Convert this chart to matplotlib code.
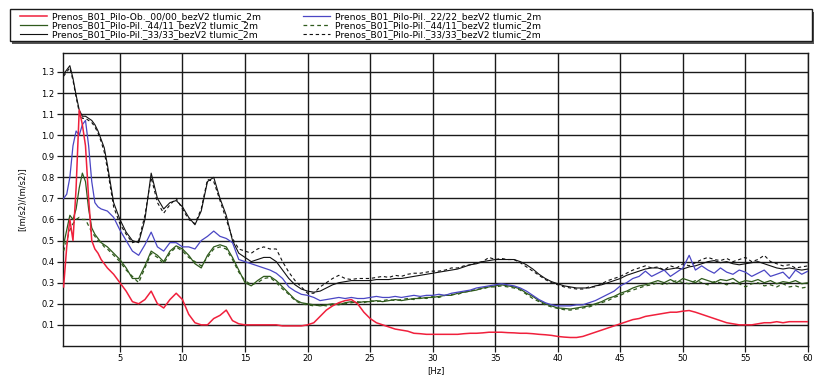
import numpy as np
import matplotlib
matplotlib.use("Agg")
import matplotlib.pyplot as plt
from matplotlib.patches import Rectangle

# frequency grid [Hz]: finer below 4 Hz where the peaks are
freq = [0.5, 0.75, 1.0, 1.25, 1.5, 1.75, 2.0, 2.25, 2.5, 2.75, 3.0, 3.25, 3.5, 3.75, 4.0] + \
       [4.5 + 0.5 * i for i in range(112)]

red_ob = [0.28, 0.47, 0.60, 0.50, 0.75, 1.12, 1.05, 0.95, 0.70, 0.50, 0.46, 0.44, 0.41, 0.39, 0.37,
          0.34, 0.30, 0.26, 0.21, 0.20, 0.22, 0.26, 0.20, 0.18, 0.22, 0.25,
          0.22, 0.15, 0.11, 0.10, 0.10, 0.13, 0.145, 0.17, 0.12, 0.105, 0.10, 0.10, 0.10, 0.10, 0.10, 0.10, 0.095, 0.095, 0.095, 0.095,
          0.10, 0.11, 0.14, 0.17, 0.19, 0.205, 0.215, 0.22, 0.20, 0.16, 0.13, 0.11, 0.10, 0.09, 0.08, 0.075, 0.07, 0.06, 0.058, 0.055,
          0.055, 0.055, 0.055, 0.055, 0.055, 0.058, 0.06, 0.06, 0.062, 0.065, 0.065, 0.065, 0.063, 0.062, 0.06, 0.06, 0.058, 0.055, 0.053, 0.05,
          0.045, 0.042, 0.04, 0.04, 0.045, 0.055, 0.065, 0.075, 0.085, 0.095, 0.105, 0.115, 0.125, 0.13, 0.14, 0.145, 0.15, 0.155, 0.16, 0.16,
          0.165, 0.168, 0.16, 0.15, 0.14, 0.13, 0.12, 0.11, 0.105, 0.10, 0.10, 0.10, 0.105, 0.11, 0.11, 0.115, 0.11, 0.115, 0.115, 0.115, 0.115]

blue_22 = [0.70, 0.72, 0.80, 0.95, 1.02, 1.00, 1.05, 1.07, 0.95, 0.78, 0.68, 0.66, 0.65, 0.645, 0.64,
           0.61, 0.55, 0.50, 0.45, 0.43, 0.48, 0.54, 0.47, 0.45, 0.49, 0.49,
           0.47, 0.47, 0.46, 0.50, 0.52, 0.545, 0.52, 0.51, 0.49, 0.41, 0.40, 0.39, 0.38, 0.37, 0.36, 0.345, 0.32, 0.28, 0.26, 0.245,
           0.24, 0.23, 0.215, 0.22, 0.225, 0.23, 0.225, 0.23, 0.225, 0.225, 0.23, 0.235, 0.23, 0.23, 0.235, 0.23, 0.235, 0.24, 0.235, 0.24,
           0.24, 0.245, 0.24, 0.25, 0.255, 0.26, 0.265, 0.275, 0.28, 0.285, 0.29, 0.295, 0.29, 0.285, 0.275, 0.26, 0.24, 0.22, 0.205, 0.195,
           0.19, 0.19, 0.19, 0.195, 0.195, 0.205, 0.215, 0.23, 0.245, 0.26, 0.285, 0.30, 0.32, 0.33, 0.355, 0.33, 0.345, 0.36, 0.33, 0.35,
           0.37, 0.43, 0.36, 0.38, 0.36, 0.345, 0.37, 0.35, 0.34, 0.36, 0.35, 0.33, 0.345, 0.36, 0.33, 0.34, 0.35, 0.32, 0.36, 0.34, 0.355]

green_44 = [0.48, 0.55, 0.62, 0.60, 0.65, 0.75, 0.82, 0.78, 0.65, 0.56, 0.53, 0.51, 0.49, 0.48, 0.47,
            0.44, 0.41, 0.37, 0.32, 0.32, 0.38, 0.45, 0.43, 0.40, 0.45, 0.475,
            0.46, 0.43, 0.39, 0.37, 0.43, 0.47, 0.48, 0.47, 0.42, 0.36, 0.30, 0.285, 0.31, 0.33, 0.33, 0.31, 0.28, 0.25, 0.22, 0.205,
            0.20, 0.195, 0.19, 0.195, 0.20, 0.195, 0.205, 0.21, 0.205, 0.21, 0.21, 0.215, 0.21, 0.215, 0.22, 0.215, 0.22, 0.225, 0.225, 0.23,
            0.23, 0.235, 0.24, 0.24, 0.25, 0.255, 0.26, 0.265, 0.275, 0.28, 0.285, 0.29, 0.285, 0.28, 0.27, 0.25, 0.235, 0.215, 0.20, 0.19,
            0.18, 0.178, 0.175, 0.18, 0.185, 0.19, 0.20, 0.21, 0.225, 0.235, 0.25, 0.26, 0.275, 0.285, 0.29, 0.30, 0.31, 0.30, 0.315, 0.30,
            0.32, 0.31, 0.30, 0.32, 0.31, 0.30, 0.315, 0.31, 0.32, 0.30, 0.31, 0.305, 0.315, 0.30, 0.31, 0.295, 0.305, 0.30, 0.31, 0.295, 0.30]

black_33 = [1.29, 1.31, 1.33, 1.27, 1.19, 1.12, 1.09, 1.09, 1.08, 1.07, 1.05, 1.02, 0.98, 0.94, 0.86,
            0.68, 0.60, 0.54, 0.50, 0.49, 0.60, 0.82, 0.70, 0.65, 0.68, 0.69,
            0.66, 0.61, 0.575, 0.64, 0.78, 0.80, 0.70, 0.62, 0.50, 0.44, 0.42, 0.40, 0.41, 0.42, 0.42, 0.40, 0.36, 0.32, 0.29, 0.27,
            0.26, 0.255, 0.26, 0.275, 0.29, 0.30, 0.305, 0.31, 0.31, 0.31, 0.31, 0.315, 0.315, 0.315, 0.32, 0.32, 0.325, 0.33, 0.335, 0.34,
            0.345, 0.35, 0.355, 0.36, 0.365, 0.375, 0.385, 0.39, 0.40, 0.405, 0.41, 0.41, 0.41, 0.41, 0.40, 0.385, 0.365, 0.34, 0.32, 0.305,
            0.295, 0.285, 0.28, 0.275, 0.275, 0.275, 0.285, 0.29, 0.30, 0.31, 0.32, 0.335, 0.345, 0.355, 0.365, 0.37, 0.37, 0.36, 0.365, 0.37,
            0.365, 0.375, 0.38, 0.39, 0.40, 0.405, 0.395, 0.40, 0.39, 0.385, 0.39, 0.395, 0.40, 0.39, 0.38, 0.37, 0.365, 0.37, 0.365, 0.36, 0.365]

green_44_d = [0.45, 0.50, 0.55, 0.58, 0.60, 0.61, 0.60, 0.60, 0.57, 0.54, 0.52, 0.50, 0.49, 0.47, 0.46,
              0.43, 0.40, 0.36, 0.33, 0.30, 0.37, 0.44, 0.42, 0.39, 0.44, 0.47,
              0.45, 0.42, 0.40, 0.38, 0.42, 0.46, 0.47, 0.46, 0.41, 0.35, 0.31, 0.29, 0.30, 0.32, 0.325, 0.30, 0.27, 0.245, 0.215, 0.20,
              0.195, 0.19, 0.195, 0.19, 0.195, 0.20, 0.20, 0.205, 0.21, 0.205, 0.215, 0.21, 0.215, 0.22, 0.215, 0.22, 0.225, 0.22, 0.23, 0.225,
              0.235, 0.23, 0.24, 0.245, 0.245, 0.255, 0.26, 0.27, 0.27, 0.28, 0.28, 0.285, 0.28, 0.275, 0.265, 0.245, 0.225, 0.21, 0.195, 0.185,
              0.178, 0.172, 0.17, 0.175, 0.18, 0.185, 0.195, 0.205, 0.215, 0.23, 0.24, 0.255, 0.265, 0.275, 0.285, 0.29, 0.30, 0.29, 0.30, 0.31,
              0.30, 0.295, 0.31, 0.30, 0.29, 0.305, 0.30, 0.29, 0.30, 0.295, 0.28, 0.295, 0.30, 0.285, 0.29, 0.28, 0.295, 0.28, 0.285, 0.275, 0.28]

black_33_d = [1.28, 1.30, 1.32, 1.26, 1.18, 1.11, 1.08, 1.08, 1.07, 1.06, 1.04, 1.01, 0.97, 0.92, 0.84,
              0.66, 0.58, 0.53, 0.49, 0.50, 0.62, 0.80, 0.68, 0.63, 0.67, 0.70,
              0.65, 0.60, 0.58, 0.65, 0.79, 0.78, 0.69, 0.60, 0.51, 0.46, 0.45, 0.44, 0.46, 0.47, 0.46, 0.46, 0.40, 0.35, 0.31, 0.28,
              0.25, 0.25, 0.28, 0.30, 0.32, 0.335, 0.32, 0.315, 0.32, 0.32, 0.32, 0.325, 0.33, 0.325, 0.335, 0.33, 0.34, 0.345, 0.345, 0.35,
              0.355, 0.355, 0.36, 0.37, 0.37, 0.38, 0.385, 0.395, 0.40, 0.42, 0.41, 0.415, 0.41, 0.41, 0.395, 0.375, 0.355, 0.335, 0.315, 0.30,
              0.29, 0.28, 0.275, 0.27, 0.27, 0.28, 0.28, 0.295, 0.31, 0.32, 0.33, 0.345, 0.36, 0.37, 0.38, 0.37, 0.375, 0.36, 0.38, 0.37,
              0.39, 0.38, 0.395, 0.41, 0.42, 0.41, 0.405, 0.415, 0.40, 0.41, 0.42, 0.40, 0.41, 0.43, 0.40, 0.39, 0.38, 0.385, 0.37, 0.375, 0.38]

labels = ["Prenos_B01_Pilo-Ob._00/00_bezV2 tlumic_2m",
          "Prenos_B01_Pilo-Pil._22/22_bezV2 tlumic_2m",
          "Prenos_B01_Pilo-Pil._44/11_bezV2 tlumic_2m",
          "Prenos_B01_Pilo-Pil._44/11_bezV2 tlumic_2m",
          "Prenos_B01_Pilo-Pil._33/33_bezV2 tlumic_2m",
          "Prenos_B01_Pilo-Pil._33/33_bezV2 tlumic_2m"]

RED = "#f0203c"
BLUE = "#4a46c4"
GREEN = "#2f5a1c"
BLACK = "#111111"

fig = plt.figure(figsize=(8.21, 3.76), dpi=100)
ax = fig.add_axes([0.0767, 0.080, 0.9075, 0.779])

# legend order: column 1 = red, green, black ; column 2 = blue, green dashed, black dashed
h_black_d, = ax.plot(freq, black_33_d, color=BLACK, lw=0.8, ls=(0, (3, 2.5)), zorder=3)
h_black, = ax.plot(freq, black_33, color=BLACK, lw=0.8, zorder=3)
h_green_d, = ax.plot(freq, green_44_d, color=GREEN, lw=0.9, ls=(0, (3, 2.5)), zorder=4)
h_green, = ax.plot(freq, green_44, color=GREEN, lw=0.9, zorder=4)
h_blue, = ax.plot(freq, blue_22, color=BLUE, lw=0.9, zorder=5)
h_red, = ax.plot(freq, red_ob, color=RED, lw=1.1, zorder=6)

ax.set_xlim(0.45, 60)
ax.set_ylim(0, 1.39)
ax.set_xticks(np.arange(5, 61, 5))
ax.set_yticks(np.arange(0.1, 1.35, 0.1))
ax.set_yticklabels([f"{v:.1f}" for v in np.arange(0.1, 1.35, 0.1)])
ax.grid(True, color="#1a1a1a", lw=1.0)
ax.set_axisbelow(True)
ax.tick_params(labelsize=6, length=4, width=0.9, color="#1a1a1a", pad=2)
for s in ax.spines.values():
    s.set_color("#1a1a1a")
    s.set_linewidth(1.0)
ax.set_xlabel("[Hz]", fontsize=6, labelpad=2)
ax.set_ylabel("[(m/s2)/(m/s2)]", fontsize=6, labelpad=10)

# legend box with drop shadow
fig.patches.append(Rectangle((0.015, 0.884), 0.977, 0.085, transform=fig.transFigure,
                             facecolor="#555555", edgecolor="none", zorder=0))
fig.patches.append(Rectangle((0.012, 0.890), 0.977, 0.085, transform=fig.transFigure,
                             facecolor="white", edgecolor="#1a1a1a", lw=1.0, zorder=1))
handles = [h_red, h_green, h_black, h_blue, h_green_d, h_black_d]
leg_labels = [labels[0], labels[2], labels[4], labels[1], labels[3], labels[5]]
fig.legend(handles, leg_labels, loc="upper left", bbox_to_anchor=(0.016, 0.984), ncol=2,
           frameon=False, fontsize=6.6, handlelength=3.0, handletextpad=0.5,
           columnspacing=4.6, labelspacing=0.0, borderpad=0.2, handleheight=0.5)

fig.savefig("out.png", dpi=100)
